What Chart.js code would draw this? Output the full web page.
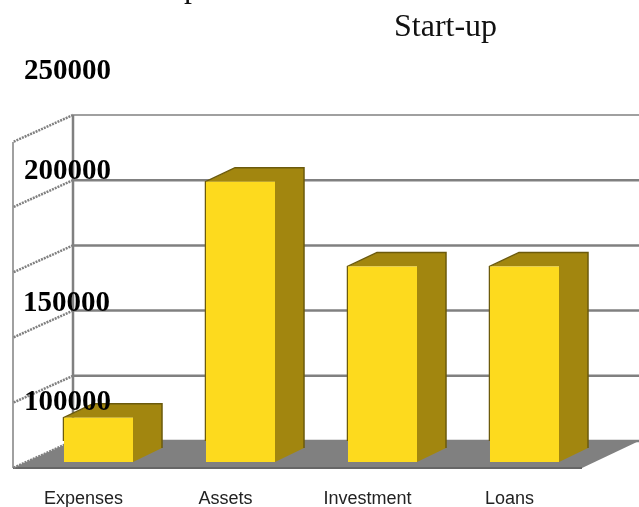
<!DOCTYPE html>
<html>
<head>
<meta charset="utf-8">
<title>Start-up</title>
<script src="https://cdn.jsdelivr.net/npm/chart.js@4"></script>
<style>
  html, body { margin: 0; padding: 0; background: #fff; overflow: hidden; }
  #wrap { position: relative; width: 639px; height: 507px; overflow: hidden; }
  canvas { position: absolute; left: 0; top: 0; filter: blur(0.4px); }
  .txt { position: absolute; font-family: "Liberation Serif", serif; color: #000; line-height: 1; white-space: nowrap; }
  .big { font-size: 32px; color: #111; }
  .num { font-size: 29px; font-weight: bold; }
</style>
</head>
<body>
<div id="wrap">
  <canvas id="chart" width="639" height="507"></canvas>
  <span class="txt big" style="left:184px;top:-30px">p</span>
  <span class="txt big" style="left:394px;top:9px">Start-up</span>
  <div id="yLabels"></div>
</div>
<script>
const categories = ['Expenses', 'Assets', 'Investment', 'Loans'];
const values = [34000, 215000, 150000, 150000];
const gridValues = [0, 50000, 100000, 150000, 200000, 250000];
const yTickLabels = ['250000', '200000', '150000', '100000'];

// the value labels sit loose over the picture, not on the gridlines
const yLabelLeft = [24, 24, 23, 24];
const yLabelTop = [55, 155, 287, 386];

yTickLabels.forEach((t, i) => {
  const s = document.createElement('span');
  s.className = 'txt num';
  s.textContent = t;
  s.style.left = yLabelLeft[i] + 'px';
  s.style.top = yLabelTop[i] + 'px';
  document.getElementById('yLabels').appendChild(s);
});

const GREY = '#808080';
const wallX = 73, sideX = 13;    // back wall and front edge of the side wall
const wallUp = 21, sideDown = 6; // wall/front offsets from the bar plane
const depthX = 29, depthY = 14;  // bar depth

function poly(ctx, pts, fill) {
  ctx.beginPath();
  pts.forEach((p, i) => i ? ctx.lineTo(p[0], p[1]) : ctx.moveTo(p[0], p[1]));
  ctx.closePath();
  ctx.fillStyle = fill;
  ctx.fill();
}

// walls, floor and gridlines, placed from the y scale
const walls = {
  id: 'walls',
  beforeDatasetsDraw(chart) {
    const ctx = chart.ctx, y = chart.scales.y;
    const backBase = y.getPixelForValue(0) - wallUp;
    const frontBase = y.getPixelForValue(0) + sideDown;
    ctx.save();
    poly(ctx, [[sideX, frontBase], [wallX, backBase], [639, backBase], [582, frontBase]], GREY);
    ctx.strokeStyle = '#666';
    ctx.lineWidth = 2;
    ctx.beginPath();
    ctx.moveTo(sideX, frontBase);
    ctx.lineTo(582, frontBase);
    ctx.stroke();

    gridValues.forEach((v, i) => {
      const gy = y.getPixelForValue(v) - wallUp;
      ctx.strokeStyle = GREY;
      ctx.lineWidth = i === gridValues.length - 1 ? 1.5 : 2.5;
      ctx.beginPath();
      ctx.moveTo(wallX, gy);
      ctx.lineTo(639, gy);
      ctx.stroke();
      ctx.lineWidth = 2.5;
      ctx.setLineDash([2, 1]);
      ctx.beginPath();
      ctx.moveTo(wallX, gy);
      ctx.lineTo(sideX, gy + wallUp + sideDown);
      ctx.stroke();
      ctx.setLineDash([]);
    });

    const top = y.getPixelForValue(250000) - wallUp;
    ctx.strokeStyle = GREY;
    ctx.lineWidth = 2.5;
    ctx.beginPath();
    ctx.moveTo(wallX, top);
    ctx.lineTo(wallX, backBase);
    ctx.stroke();
    ctx.lineWidth = 1.5;
    ctx.beginPath();
    ctx.moveTo(sideX, top + wallUp + sideDown);
    ctx.lineTo(sideX, frontBase);
    ctx.stroke();
    ctx.restore();
  }
};

// side and top faces of each bar, taken from the bar elements
const bar3d = {
  id: 'bar3d',
  beforeDatasetDraw(chart) {
    const ctx = chart.ctx;
    chart.getDatasetMeta(0).data.forEach(b => {
      const l = b.x - b.width / 2, r = b.x + b.width / 2;
      poly(ctx, [
        [l, b.y], [l + depthX, b.y - depthY], [r + depthX, b.y - depthY],
        [r + depthX, b.base - depthY], [r, b.base], [r, b.y]
      ], '#a2860f');
      ctx.save();
      ctx.strokeStyle = '#6b5a0c';
      ctx.lineWidth = 1.5;
      ctx.beginPath();
      ctx.moveTo(l - 0.5, b.base - 21);
      ctx.lineTo(l - 0.5, b.y);
      ctx.lineTo(l + depthX, b.y - depthY);
      ctx.lineTo(r + depthX, b.y - depthY);
      ctx.lineTo(r + depthX, b.base - depthY);
      ctx.stroke();
      ctx.restore();
    });
  }
};

new Chart(document.getElementById('chart'), {
  type: 'bar',
  data: {
    labels: categories,
    datasets: [{
      data: values,
      backgroundColor: '#fdda1e',
      borderWidth: 0,
      categoryPercentage: 1,
      barPercentage: 0.486
    }]
  },
  options: {
    responsive: false,
    animation: false,
    layout: { padding: { left: 27.5, right: 43.5, top: 136, bottom: 0 } },
    plugins: { legend: { display: false }, tooltip: { enabled: false } },
    scales: {
      x: {
        grid: { display: false, drawTicks: false },
        border: { display: false },
        afterFit(scale) { scale.height = 45; },
        ticks: {
          color: '#222',
          padding: 26,
          maxRotation: 0,
          labelOffset: -15,
          font: { family: '"Liberation Sans", Arial, sans-serif', size: 18 }
        }
      },
      y: {
        display: false,
        min: 0,
        max: 250000
      }
    }
  },
  plugins: [walls, bar3d]
});
</script>
</body>
</html>
